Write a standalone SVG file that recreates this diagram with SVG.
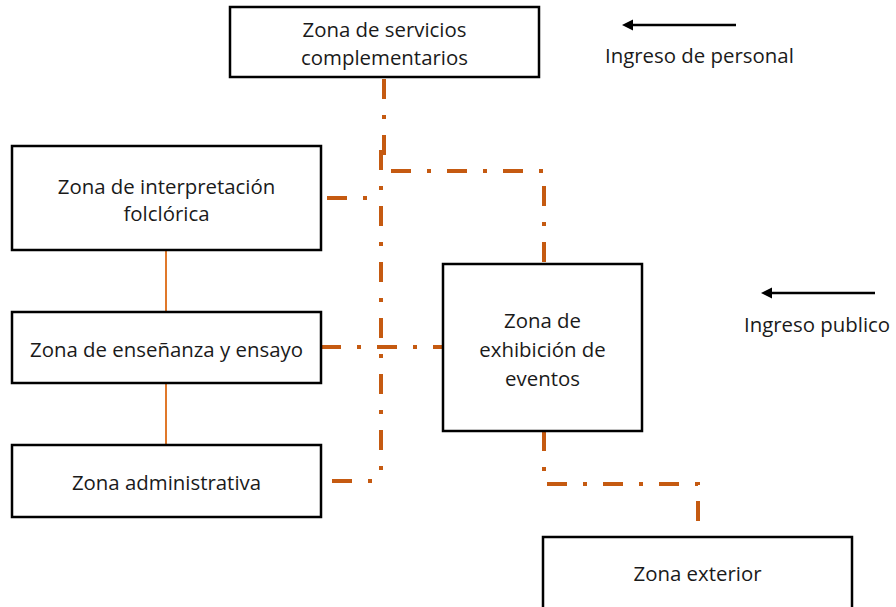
<svg xmlns="http://www.w3.org/2000/svg" width="896" height="607" viewBox="0 0 896 607">
<style>
.box{fill:#fff;stroke:#000;stroke-width:2.5}
.t{font-family:"Open Sans","Liberation Sans",Arial,sans-serif;font-size:20.4px;fill:#1a1a1a;text-anchor:middle;dominant-baseline:central}
.tl{font-family:"Open Sans","Liberation Sans",Arial,sans-serif;font-size:20.4px;fill:#1a1a1a}
.dd{fill:none;stroke:#C55A11;stroke-width:4;stroke-dasharray:20 16 4 16}
.sol{fill:none;stroke:#E0782A;stroke-width:2}
.arr{stroke:#000;stroke-width:2.5;fill:none}
</style>
<g id="connectors">
<path class="dd" d="M384,79 V166"/>
<path class="dd" d="M391,171 H544 V264"/>
<path class="dd" d="M327,198 H381"/>
<path class="dd" d="M381,150 V478"/>
<path class="dd" d="M321,347 H443"/>
<path class="dd" d="M332,481 H381"/>
<path class="dd" d="M544,431 V472"/>
<path class="dd" d="M547,484 H698 V522"/>
<path class="sol" d="M166,250 V312"/>
<path class="sol" d="M166,383 V445"/>
<path class="arr" d="M736,25 H630"/>
<polygon points="622,25 633,19.5 633,30.5" fill="#000"/>
<path class="arr" d="M875,293 H769"/>
<polygon points="761,293 772,287.5 772,298.5" fill="#000"/>
</g>
<g id="n1"><rect class="box" x="230" y="7" width="309" height="70"/><text class="t" x="384.5" y="29">Zona de servicios</text><text class="t" x="384.5" y="57">complementarios</text></g>
<g id="n2"><rect class="box" x="12" y="146" width="309" height="104"/><text class="t" x="166.5" y="186">Zona de interpretación</text><text class="t" x="166.5" y="213">folclórica</text></g>
<g id="n3"><rect class="box" x="12" y="312" width="309" height="71"/><text class="t" x="166.5" y="349">Zona de enseñanza y ensayo</text></g>
<g id="n4"><rect class="box" x="12" y="445" width="309" height="72"/><text class="t" x="166.5" y="482">Zona administrativa</text></g>
<g id="n5"><rect class="box" x="443" y="264" width="199" height="167"/><text class="t" x="542.5" y="320">Zona de</text><text class="t" x="542.5" y="349">exhibición de</text><text class="t" x="542.5" y="378">eventos</text></g>
<g id="n6"><rect class="box" x="543" y="537" width="309" height="72"/><text class="t" x="697.5" y="573">Zona exterior</text></g>
<g id="labels"><text class="tl" x="605" y="63">Ingreso de personal</text><text class="tl" x="744" y="332">Ingreso publico</text></g>
</svg>
